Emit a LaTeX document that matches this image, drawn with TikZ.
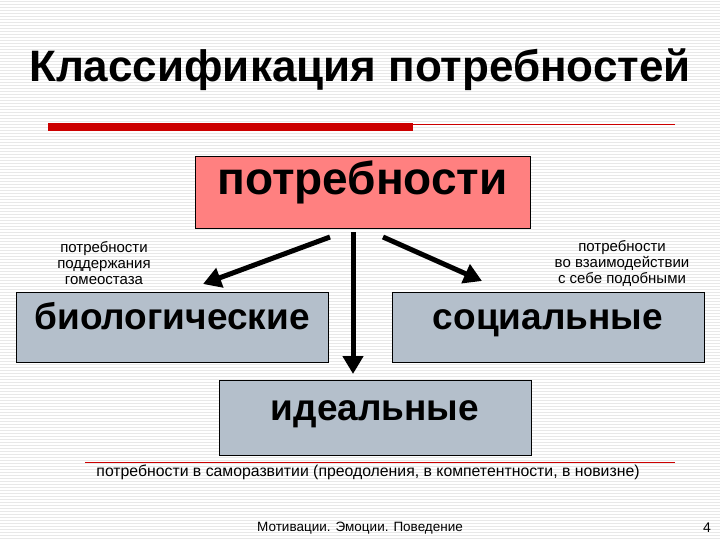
\documentclass[tikz,border=0pt]{standalone}
\usepackage{fontspec}
\setmainfont{Liberation Sans}
\usetikzlibrary{arrows.meta}
\definecolor{boxg}{HTML}{B4BFCB}
\definecolor{boxp}{HTML}{FF8080}
\definecolor{redb}{HTML}{CC0000}
\tikzset{
 box/.style={draw=black, line width=0.8pt, fill=boxg, minimum width=312pt, minimum height=70pt, inner sep=0pt, text height=0.72em, text depth=0.2em, font=\fontsize{37}{40}\selectfont\bfseries},
 small/.style={align=center, font=\fontsize{15}{16}\selectfont},
 arr/.style={line width=5pt, -{Triangle[length=18pt,width=20pt]}}
}
\begin{document}
\begin{tikzpicture}[x=1pt,y=-1pt]
\useasboundingbox (0,0) rectangle (720,540);
\fill[white] (0,0) rectangle (720,540);
\foreach \y in {1,4,...,539} \draw[gray!18, line width=0.5pt] (0,\y) -- (720,\y);
\node[font=\fontsize{44}{48}\selectfont\bfseries] (title) at (360,70) {Классификация потребностей};
\fill[redb] (48,123) rectangle (413,131);
\draw[redb, line width=0.6pt] (413,124) -- (675,124);
\node[box, fill=boxp, minimum width=335pt, minimum height=72pt, font=\fontsize{46}{50}\selectfont\bfseries] (p) at (362.5,192) {потребности};
\node[box] (b) at (172,327) {биологические};
\node[box] (s) at (548,327) {социальные};
\node[box, minimum height=75pt] (i) at (375,417.5) {идеальные};
\node[small] (lb) at (104,263) {потребности\\поддержания\\гомеостаза};
\node[small] (ls) at (622,263) {потребности\\во взаимодействии\\с себе подобными};
\coordinate (a1) at (330,237); \coordinate (e1) at (203,284);
\coordinate (a2) at (353,232); \coordinate (e2) at (353,374);
\coordinate (a3) at (383,237); \coordinate (e3) at (482,281);
\draw[arr] (a1) -- (e1);
\draw[arr] (a2) -- (e2);
\draw[arr] (a3) -- (e3);
\node[small, font=\fontsize{15.8}{17}\selectfont] (li) at (368,472) {потребности в саморазвитии (преодоления, в компетентности, в новизне)};
\draw[redb, line width=0.6pt] (85,462) -- (675,462);
\node[font=\fontsize{13.5}{15}\selectfont] (f) at (360,528) {Мотивации. Эмоции. Поведение};
\node[font=\fontsize{14}{15}\selectfont] (n) at (707,528) {4};
\end{tikzpicture}
\end{document}
